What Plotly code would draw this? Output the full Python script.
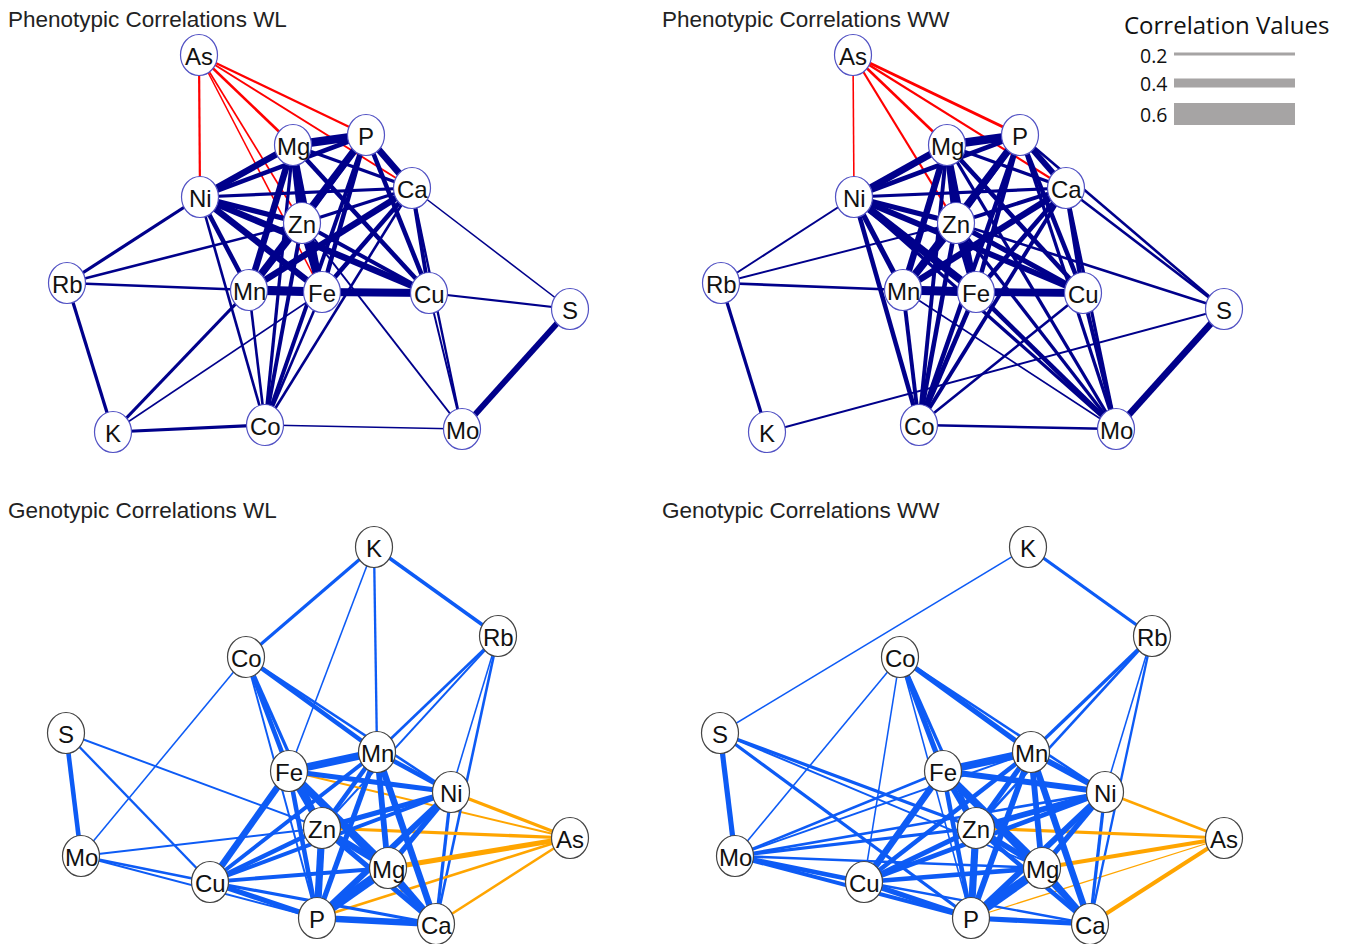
import plotly.graph_objects as go

# ---------------- data ----------------
panel_titles = ["Phenotypic Correlations WL", "Phenotypic Correlations WW",
                "Genotypic Correlations WL", "Genotypic Correlations WW"]

# node layout (panel-local units), phenotypic panels share one layout, genotypic the other
pheno_nodes = ["As", "Mg", "P", "Ca", "Ni", "Zn", "Rb", "Mn", "Fe", "Cu", "S", "K", "Co", "Mo"]
pheno_x = [199, 293, 366, 412, 200, 302, 67, 249, 322, 429, 570, 113, 265, 462]
pheno_y = [55, 145, 135, 188, 197, 223, 283, 290, 292, 293, 309, 432, 425, 429]

geno_nodes = ["K", "Rb", "Co", "S", "Mn", "Fe", "Ni", "As", "Zn", "Mo", "Mg", "Cu", "P", "Ca"]
geno_x = [374, 498, 246, 66, 377, 289, 451, 570, 322, 81, 388, 210, 317, 436]
geno_y = [57, 146, 167, 243, 262, 281, 302, 348, 338, 366, 378, 392, 428, 434]

# edges: pair names and signed correlation values
pwl_pairs = ["As-Ni", "As-Mg", "As-P", "As-Ca", "As-Zn", "As-Fe",
             "Mg-P", "Mg-Ni", "Mg-Zn", "Mg-Mn", "Mg-Fe", "Mg-Ca", "Mg-Cu", "Mg-Co",
             "P-Ca", "P-Ni", "P-Zn", "P-Mn", "P-Fe", "P-Cu", "P-Co",
             "Ca-Ni", "Ca-Zn", "Ca-Mn", "Ca-Fe", "Ca-Cu", "Ca-Mo", "Ca-S", "Ca-Co",
             "Ni-Zn", "Ni-Mn", "Ni-Fe", "Ni-Cu", "Ni-Co", "Ni-Rb",
             "Zn-Mn", "Zn-Fe", "Zn-Cu", "Zn-Rb", "Zn-Mo", "Zn-Co",
             "Rb-Mn", "Rb-K", "Mn-Fe", "Mn-Co", "Mn-K",
             "Fe-Cu", "Fe-Co", "Fe-K", "Cu-S", "Cu-Mo", "S-Mo", "K-Co", "Co-Mo"]
pwl_r = [-0.27, -0.30, -0.27, -0.25, -0.23, -0.22,
         0.75, 0.60, 0.65, 0.60, 0.50, 0.35, 0.45, 0.35,
         0.60, 0.45, 0.50, 0.65, 0.45, 0.45, 0.40,
         0.35, 0.35, 0.60, 0.45, 0.40, 0.28, 0.22, 0.30,
         0.50, 0.45, 0.60, 0.60, 0.30, 0.35,
         0.60, 0.70, 0.40, 0.30, 0.25, 0.40,
         0.30, 0.35, 0.80, 0.30, 0.35,
         0.70, 0.30, 0.22, 0.27, 0.25, 0.55, 0.35, 0.22]

pww_pairs = ["As-Ni", "As-Zn", "As-Mg", "As-P", "As-Ca",
             "Mg-P", "Mg-Ni", "Mg-Zn", "Mg-Mn", "Mg-Fe", "Mg-Ca", "Mg-Cu", "Mg-Co", "Mg-Mo",
             "P-Ca", "P-Ni", "P-Zn", "P-Mn", "P-Fe", "P-Cu", "P-Co", "P-S", "P-Mo",
             "Ca-Ni", "Ca-Zn", "Ca-Mn", "Ca-Fe", "Ca-Cu", "Ca-Co", "Ca-Mo", "Ca-S",
             "Ni-Zn", "Ni-Mn", "Ni-Fe", "Ni-Cu", "Ni-Co", "Ni-Rb", "Ni-Mo",
             "Zn-Mn", "Zn-Fe", "Zn-Cu", "Zn-Rb", "Zn-Co", "Zn-Mo", "Zn-S",
             "Rb-Mn", "Rb-K", "Mn-Fe", "Mn-Co", "Mn-Mo", "Mn-Cu",
             "Fe-Cu", "Fe-Co", "Fe-Mo", "Cu-Co", "Cu-Mo", "S-Mo", "K-S", "Co-Mo"]
pww_r = [-0.22, -0.27, -0.30, -0.33, -0.27,
         0.75, 0.65, 0.60, 0.60, 0.50, 0.35, 0.45, 0.40, 0.35,
         0.55, 0.45, 0.50, 0.65, 0.45, 0.45, 0.45, 0.30, 0.35,
         0.35, 0.40, 0.60, 0.45, 0.45, 0.40, 0.35, 0.30,
         0.50, 0.50, 0.70, 0.55, 0.45, 0.25, 0.35,
         0.65, 0.70, 0.50, 0.25, 0.45, 0.35, 0.30,
         0.30, 0.35, 0.80, 0.40, 0.22, 0.40,
         0.70, 0.45, 0.45, 0.30, 0.40, 0.60, 0.25, 0.30]

gwl_pairs = ["K-Co", "K-Fe", "K-Mn", "K-Rb",
             "Rb-Mn", "Rb-Zn", "Rb-Ni", "Rb-Ca",
             "Co-Fe", "Co-Zn", "Co-P", "Co-Mn", "Co-Ni", "Co-Mo",
             "S-Mo", "S-Cu", "S-Zn", "Mo-Cu", "Mo-P", "Mo-Zn",
             "Cu-Fe", "Cu-Mn", "Cu-Zn", "Cu-Ni", "Cu-Mg", "Cu-P", "Cu-Ca",
             "Fe-Mn", "Fe-Ni", "Fe-Zn", "Fe-Mg", "Fe-P", "Fe-Ca",
             "Mn-Ni", "Mn-Zn", "Mn-Mg", "Mn-P", "Mn-Ca",
             "Ni-Zn", "Ni-Mg", "Ni-P", "Ni-Ca",
             "Zn-Mg", "Zn-P", "Zn-Ca", "Mg-P", "Mg-Ca", "P-Ca",
             "As-Ni", "As-Zn", "As-Mg", "As-P", "As-Ca", "As-Fe"]
gwl_r = [0.35, 0.22, 0.28, 0.38,
         0.30, 0.25, 0.22, 0.30,
         0.45, 0.35, 0.25, 0.45, 0.30, 0.22,
         0.45, 0.28, 0.25, 0.30, 0.25, 0.25,
         0.60, 0.40, 0.45, 0.40, 0.40, 0.50, 0.35,
         0.70, 0.50, 0.60, 0.70, 0.45, 0.40,
         0.45, 0.45, 0.55, 0.50, 0.60,
         0.50, 0.50, 0.55, 0.35,
         0.60, 0.65, 0.50, 0.80, 0.60, 0.60,
         -0.35, -0.35, -0.50, -0.30, -0.30, -0.25]

gww_pairs = ["K-Rb", "K-S",
             "Rb-Mn", "Rb-Zn", "Rb-Ni", "Rb-Ca",
             "Co-Fe", "Co-Zn", "Co-P", "Co-Mn", "Co-Ni", "Co-Mo", "Co-Cu",
             "S-Mo", "S-Zn", "S-Mg", "S-P",
             "Mo-Fe", "Mo-Mn", "Mo-Zn", "Mo-Ni", "Mo-Mg", "Mo-Cu", "Mo-P",
             "Cu-Fe", "Cu-Mn", "Cu-Zn", "Cu-Ni", "Cu-Mg", "Cu-P", "Cu-Ca",
             "Fe-Mn", "Fe-Ni", "Fe-Zn", "Fe-Mg", "Fe-P", "Fe-Ca",
             "Mn-Ni", "Mn-Zn", "Mn-Mg", "Mn-P", "Mn-Ca",
             "Ni-Zn", "Ni-Mg", "Ni-P", "Ni-Ca",
             "Zn-Mg", "Zn-P", "Zn-Ca", "Mg-P", "Mg-Ca", "P-Ca",
             "As-Ni", "As-Zn", "As-Mg", "As-P", "As-Ca"]
gww_r = [0.35, 0.22,
         0.35, 0.30, 0.22, 0.28,
         0.50, 0.35, 0.22, 0.50, 0.30, 0.22, 0.22,
         0.50, 0.35, 0.25, 0.35,
         0.30, 0.25, 0.35, 0.30, 0.30, 0.45, 0.40,
         0.60, 0.45, 0.50, 0.45, 0.45, 0.50, 0.28,
         0.70, 0.55, 0.55, 0.70, 0.45, 0.35,
         0.55, 0.50, 0.55, 0.55, 0.60,
         0.55, 0.50, 0.55, 0.35,
         0.55, 0.65, 0.45, 0.80, 0.60, 0.50,
         -0.30, -0.35, -0.40, -0.20, -0.40]

legend_values = ["0.2", "0.4", "0.6"]

# ---------------- styles / geometry ----------------
W, H = 1345, 944
PANEL_W = 654
TOP_H, BOT_H = 490, 454
NODE_RX, NODE_RY = 18.5, 20.5
FONT = "Liberation Sans, Arial, sans-serif"

panels = [
    dict(nodes=pheno_nodes, xs=pheno_x, ys=pheno_y, pairs=pwl_pairs, r=pwl_r,
         pos="#00008B", neg="#FF0000", outline="#5252c4", ax=1),
    dict(nodes=pheno_nodes, xs=pheno_x, ys=pheno_y, pairs=pww_pairs, r=pww_r,
         pos="#00008B", neg="#FF0000", outline="#5252c4", ax=2),
    dict(nodes=geno_nodes, xs=geno_x, ys=geno_y, pairs=gwl_pairs, r=gwl_r,
         pos="#0D5BF5", neg="#FFA500", outline="#444444", ax=3),
    dict(nodes=geno_nodes, xs=geno_x, ys=geno_y, pairs=gww_pairs, r=gww_r,
         pos="#0D5BF5", neg="#FFA500", outline="#444444", ax=4),
]


def edge_width(r):
    return max(1.1, 13.0 * (abs(r) - 0.1))


fig = go.Figure()
shapes = []
annotations = []

for i, p in enumerate(panels):
    ax = p["ax"]
    xr = "x" if ax == 1 else f"x{ax}"
    yr = "y" if ax == 1 else f"y{ax}"
    pos = {n: (x, y) for n, x, y in zip(p["nodes"], p["xs"], p["ys"])}
    order = sorted(range(len(p["pairs"])), key=lambda k: abs(p["r"][k]))
    for k in order:
        a, b = p["pairs"][k].split("-")
        r = p["r"][k]
        fig.add_trace(go.Scatter(
            x=[pos[a][0], pos[b][0]], y=[pos[a][1], pos[b][1]],
            mode="lines", xaxis=xr, yaxis=yr, hoverinfo="skip", showlegend=False,
            line=dict(color=p["pos"] if r > 0 else p["neg"], width=edge_width(r)),
        ))
    for n in p["nodes"]:
        x, y = pos[n]
        shapes.append(dict(type="circle", xref=xr, yref=yr, layer="above",
                           x0=x - NODE_RX, x1=x + NODE_RX, y0=y - NODE_RY, y1=y + NODE_RY,
                           fillcolor="white", line=dict(color=p["outline"], width=1.2)))
        annotations.append(dict(x=x, y=y + 1, xref=xr, yref=yr, text=n, showarrow=False,
                                font=dict(family=FONT, size=24, color="#111111"),
                                xanchor="center", yanchor="middle"))
    annotations.append(dict(x=6, y=19 if ax <= 2 else 21, xref=xr, yref=yr, text=panel_titles[i],
                            showarrow=False, xanchor="left", yanchor="middle",
                            font=dict(family=FONT, size=22.5, color="#222222")))

split = 1 - TOP_H / H
layout_axes = {}
for ax in [1, 2, 3, 4]:
    left = ax in (1, 3)
    top = ax in (1, 2)
    xd = [0, PANEL_W / W] if left else [PANEL_W / W, 2 * PANEL_W / W]
    yd = [split, 1] if top else [0, split]
    ph = TOP_H if top else BOT_H
    sx = "" if ax == 1 else str(ax)
    layout_axes[f"xaxis{sx}"] = dict(domain=xd, range=[0, PANEL_W], visible=False,
                                     fixedrange=True, anchor=f"y{sx}")
    layout_axes[f"yaxis{sx}"] = dict(domain=yd, range=[ph, 0], visible=False,
                                     fixedrange=True, anchor=f"x{sx}")

# size legend (paper coords)
LEG_FONT = "Open Sans, Liberation Sans, sans-serif"
annotations.append(dict(x=1226 / W, y=1 - 25 / H, xref="paper", yref="paper",
                        text="Correlation Values", showarrow=False, xanchor="center",
                        yanchor="middle", font=dict(family=LEG_FONT, size=24, color="#111111")))
leg_centers = [54, 83, 114]
leg_thick = [3, 9, 22]
for lab, cy, th in zip(legend_values, leg_centers, leg_thick):
    shapes.append(dict(type="rect", xref="paper", yref="paper", layer="above",
                       x0=1174 / W, x1=1295 / W, y0=1 - (cy - th / 2) / H, y1=1 - (cy + th / 2) / H,
                       fillcolor="#a6a4a4", line=dict(width=0)))
    annotations.append(dict(x=1169 / W, y=1 - (cy + 1) / H, xref="paper", yref="paper", text=lab,
                            showarrow=False, xanchor="right", yanchor="middle",
                            font=dict(family=LEG_FONT, size=19.5, color="#111111")))

fig.update_layout(
    width=W, height=H, margin=dict(l=0, r=0, t=0, b=0),
    paper_bgcolor="white", plot_bgcolor="white",
    shapes=shapes, annotations=annotations, showlegend=False,
    **layout_axes,
)

fig.write_html("out.html", config={"displayModeBar": False},
               post_script="document.body.style.margin='0px';")
